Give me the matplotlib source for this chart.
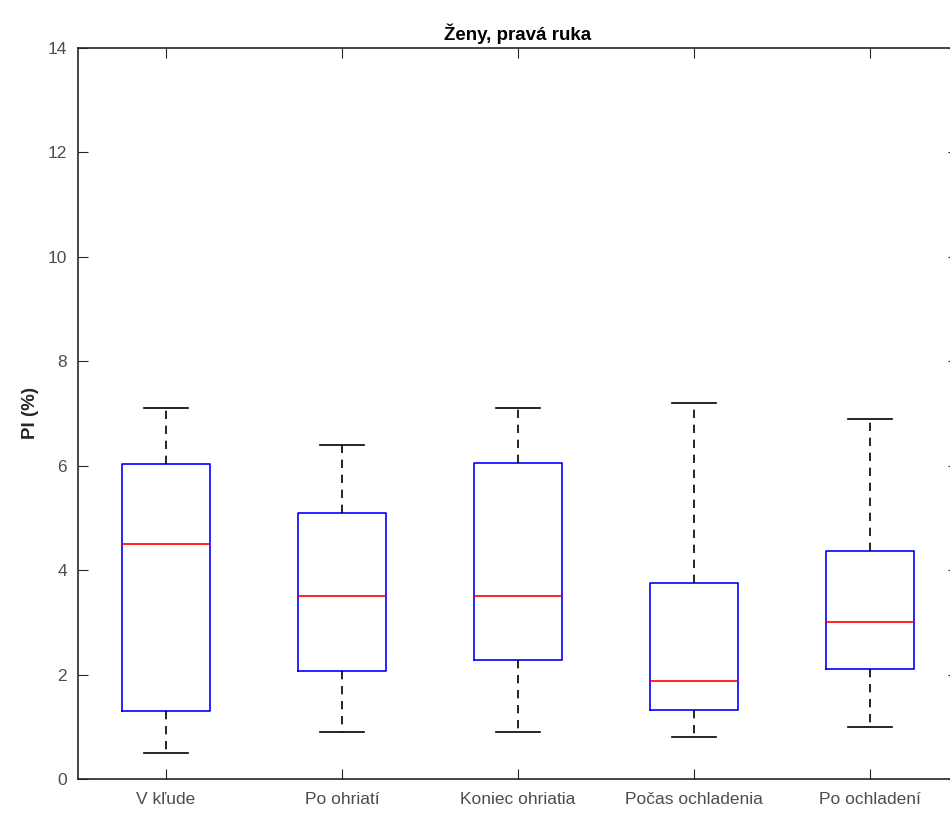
import matplotlib
matplotlib.use("Agg")
import matplotlib.pyplot as plt

plt.rcParams['font.family'] = ['Liberation Sans', 'DejaVu Sans']

# categories and box statistics
categories = ["V kľude", "Po ohriatí", "Koniec ohriatia", "Počas ochladenia", "Po ochladení"]
whisker_low = [0.5, 0.9, 0.9, 0.8, 1.0]
q1 = [1.3, 2.06, 2.27, 1.33, 2.1]
medians = [4.5, 3.5, 3.5, 1.88, 3.0]
q3 = [6.03, 5.09, 6.05, 3.75, 4.37]
whisker_high = [7.1, 6.4, 7.1, 7.2, 6.9]

stats = []
for i in range(len(categories)):
    stats.append({"label": categories[i], "whislo": whisker_low[i], "q1": q1[i],
                  "med": medians[i], "q3": q3[i], "whishi": whisker_high[i], "fliers": []})

fig = plt.figure(figsize=(9.5, 8.19), dpi=100)
# axes run a bit past the right edge of the picture, like the reference
ax = fig.add_axes([78/950, 40/819, 880/950, 731/819])

ax.bxp(stats, positions=range(1, 6), widths=0.5, showfliers=False,
       boxprops=dict(color="#0000ff", linewidth=1.2),
       medianprops=dict(color="#ff0000", linewidth=1.2),
       whiskerprops=dict(color="black", linewidth=1.2, linestyle=(0, (5, 4))),
       capprops=dict(color="black", linewidth=1.2),
       capwidths=0.25)

ax.set_xlim(0.5, 5.5)
ax.set_ylim(0, 14)
ax.set_yticks(range(0, 15, 2))
ax.set_xticks(range(1, 6))
ax.set_xticklabels(categories)
ax.tick_params(direction="in", length=7, top=True, right=True, labelsize=12.5,
               colors="#262626", labelcolor="#4d4d4d")
ax.tick_params(axis="y", pad=8)
ax.tick_params(axis="x", pad=9)
for s in ax.spines.values():
    s.set_color("#262626")
    s.set_linewidth(1.2)

ax.set_ylabel("PI (%)", fontsize=13.5, fontweight="bold", color="#262626", labelpad=6)
ax.set_title("Ženy, pravá ruka", fontsize=13.5, fontweight="bold", color="black", pad=6)

fig.savefig("out.png", dpi=100)
